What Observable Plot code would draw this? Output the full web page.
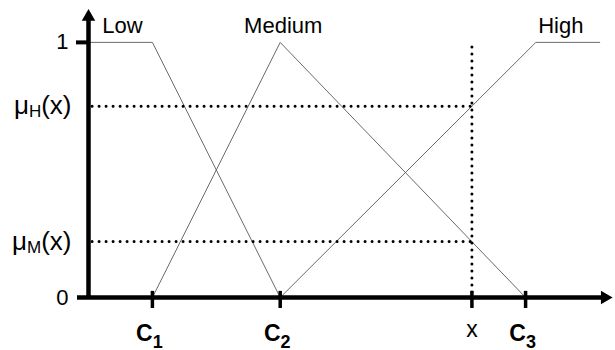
<!DOCTYPE html>
<html><head><meta charset="utf-8">
<script src="https://cdn.jsdelivr.net/npm/d3@7"></script>
<script src="https://cdn.jsdelivr.net/npm/@observablehq/plot@0.6"></script>
<style>body{margin:0;background:#fff;}</style>
</head><body><div id="chart"></div>
<script>
// ---- data ----
const centerNames = ["C_1", "C_2", "C_3"];
const centerValues = [1.25, 3.75, 8.55];
const inputName = "x";
const inputValue = 7.5;
const setNames = ["Low", "Medium", "High"];
const lowX = [0, 1.25, 3.75], lowY = [1, 1, 0];
const mediumX = [1.25, 3.75, 8.55], mediumY = [0, 1, 0];
const highX = [3.75, 8.75, 10], highY = [0, 1, 1];
const degreeNames = ["μ_H(x)", "μ_M(x)"];
const degreeValues = [0.75, 0.22];
const yTickValues = [0, 1];
const yTickLabels = ["0", "1"];
const xMax = 10.25, yMax = 1.125;

// ---- build ----
const pts = (xs, ys, name) => xs.map((x, i) => ({x, y: ys[i], name}));
const curves = [...pts(lowX, lowY, "Low"), ...pts(mediumX, mediumY, "Medium"), ...pts(highX, highY, "High")];
const setLabelX = [(lowX[0] + lowX[1]) / 2, mediumX[1], (highX[1] + highX[2]) / 2];
const setLabelDx = [2, 3, -7];
const dotted = {stroke: "black", strokeWidth: 3, strokeDasharray: "0,7", strokeLinecap: "round"};

const chart = Plot.plot({
  width: 615, height: 350,
  marginLeft: 88, marginRight: 3, marginTop: 10, marginBottom: 53,
  x: {domain: [0, xMax], axis: null},
  y: {domain: [0, yMax], axis: null},
  style: {fontFamily: "'Liberation Sans', Arial, sans-serif", color: "black", background: "white", overflow: "visible"},
  marks: [
    Plot.line(curves, {x: "x", y: "y", z: "name", stroke: "#6a6a6a", strokeWidth: 1}),
    Plot.ruleY(degreeValues, {x1: 0.08, x2: inputValue, ...dotted}),
    Plot.ruleX([inputValue], {y1: 0.98, y2: 0.01, ...dotted}),
    // axes
    Plot.ruleY([0], {x1: -0.215, x2: 10.1, stroke: "black", strokeWidth: 4.5}),
    Plot.ruleX([0], {y1: -0.008, y2: 1.1, stroke: "black", strokeWidth: 4.5}),
    Plot.dot([0], {x: 0, y: 1.1, symbol: "triangle", r: 5, fill: "black", stroke: null}),
    Plot.dot([0], {x: 10.1, y: 0, symbol: "triangle", r: 5, rotate: 90, fill: "black", stroke: null}),
    Plot.ruleX([...centerValues, inputValue], {y1: -0.043, y2: 0.024, stroke: "black", strokeWidth: 3.5}),
    Plot.ruleY([1], {x1: -0.235, x2: 0, stroke: "black", strokeWidth: 4}),
    // labels
    Plot.text(yTickValues, {x: 0, y: d => d, text: (d, i) => yTickLabels[i], textAnchor: "end", dx: -20, fontSize: 22}),
    Plot.text(degreeValues, {x: 0, y: d => d, text: (d, i) => degreeNames[i], textAnchor: "end", dx: -17, fontSize: 26}),
    ...setNames.map((n, i) => Plot.text([n], {x: setLabelX[i], y: 1, text: d => d, lineAnchor: "bottom", dy: -9, dx: setLabelDx[i], fontSize: 22})),
    Plot.text(centerValues, {x: d => d, y: 0, text: (d, i) => centerNames[i], fontWeight: "bold", fontSize: 23, lineAnchor: "bottom", dy: 43, dx: -3}),
    Plot.text([inputName], {x: inputValue, y: 0, text: d => d, fontSize: 23, lineAnchor: "bottom", dy: 39})
  ]
});

// subscripts as real text (tspans)
d3.select(chart).selectAll("text").each(function() {
  const t = this.textContent;
  const m = t.match(/^(.*?)_(\w)(.*)$/);
  if (!m) return;
  const bold = t.startsWith("C");
  const shift = bold ? 7 : 3, size = bold ? 18 : 17;
  const sel = d3.select(this);
  sel.text(null);
  sel.append("tspan").text(m[1]);
  sel.append("tspan").attr("dy", shift).attr("font-size", size).text(m[2]);
  if (m[3]) sel.append("tspan").attr("dy", -shift).text(m[3]);
});

document.getElementById("chart").append(chart);
</script>
</body></html>
